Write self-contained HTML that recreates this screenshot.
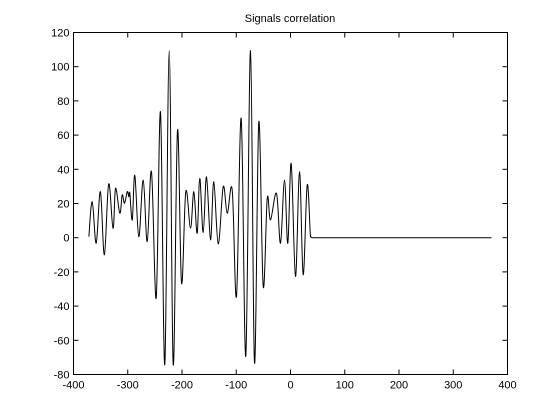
<!DOCTYPE html>
<html><head><meta charset="utf-8"><style>
html,body{margin:0;padding:0;background:#fff;}
svg{display:block;font-family:"Liberation Sans",sans-serif;}
</style></head><body>
<svg id="chart" width="560" height="420">
<rect x="0" y="0" width="560" height="420" fill="#fff"/>
<text x="290" y="22" text-anchor="middle" font-size="11">Signals correlation</text>
<rect x="73.5" y="32.5" width="434" height="342" fill="none" stroke="#000" stroke-width="1"/>
<g id="ticks"></g>
<path id="signal" fill="none" stroke="#000" stroke-width="1"/>
</svg>
<script>
const xTicks = [-400,-300,-200,-100,0,100,200,300,400];
const yTicks = [-80,-60,-40,-20,0,20,40,60,80,100,120];
const lagValues = [-371.7,-365.5,-358.2,-350.5,-343.1,-335.2,-327.1,-322.5,-314.6,-310.2,-305.9,-301,-298,-296.2,-291.7,-287,-279.6,-271.5,-264.1,-256.2,-247.5,-239.6,-231.7,-223.6,-216.2,-208.3,-200.9,-193,-184.3,-178.2,-172,-167.2,-160.9,-154.8,-147.4,-141.4,-133.2,-124,-116.6,-107.4,-99.5,-90.8,-82.4,-73.7,-66.3,-58.4,-50.3,-42.9,-36.9,-25.8,-18.4,-11.1,-5,1.3,9.2,16.6,23.4,30.8,36.9,40,370.4];
const corrValues = [0.6,21,-3.2,26.9,-10,31.4,5.5,28.9,14.3,25,20.1,26.9,24,26,10.4,36.5,0.6,33.7,-2.3,38.5,-35.3,73.5,-74.2,109.5,-74.2,62.8,-26.5,26.9,5.5,26.9,2.6,34.7,3,35.6,-1.3,32.7,-3.6,29.8,14.3,27.9,-34.3,69.7,-69.3,109.5,-73.2,67.7,-28.5,23,10.4,25.9,-3.2,33.7,-3.2,43.4,-22.7,38.5,-21.7,30.8,0.6,0,0];
const X0=73.5,X1=507.5,Y0=374.5,Y1=32.5;
function xs(v){return X0+(v+400)/800*(X1-X0);}
function ys(v){return Y0-(v+80)/200*(Y0-Y1);}
const NS="http://www.w3.org/2000/svg";
const g=document.getElementById('ticks');
function mk(tag,attrs){const e=document.createElementNS(NS,tag);for(const k in attrs)e.setAttribute(k,attrs[k]);g.appendChild(e);return e;}
xTicks.forEach(t=>{
  const x=xs(t);
  const a=mk('line',{x1:x,x2:x,y1:Y0,y2:Y0-5,stroke:'#000'});
  
  
  const b=mk('line',{x1:x,x2:x,y1:Y1,y2:Y1+5,stroke:'#000'});
  
  
  const l=mk('text',{x:x,y:Y0+14,'text-anchor':'middle','font-size':'11'});
  l.textContent=t;
  
  
});
yTicks.forEach(t=>{
  const y=ys(t);
  const a=mk('line',{x1:X0,x2:X0+5,y1:y,y2:y,stroke:'#000'});
  
  
  const b=mk('line',{x1:X1,x2:X1-5,y1:y,y2:y,stroke:'#000'});
  
  
  const l=mk('text',{x:X0-4,y:y+4,'text-anchor':'end','font-size':'11'});
  l.textContent=t;
  
  
});
const P=lagValues.map((v,i)=>[xs(v),ys(corrValues[i])]);
let d='M'+P[0][0].toFixed(1)+','+P[0][1].toFixed(1);
const k=0.35;
for(let i=0;i<P.length-1;i++){
  const p0=P[Math.max(0,i-1)],p1=P[i],p2=P[i+1],p3=P[Math.min(P.length-1,i+2)];
  if(p3[0]-p1[0]>20 || p2[0]-p0[0]>20){d+='L'+p2[0].toFixed(1)+','+p2[1].toFixed(1);continue;}
  const c1x=p1[0]+(p2[0]-p0[0])*k/2, c1y=p1[1]+(p2[1]-p0[1])*k/2;
  const c2x=p2[0]-(p3[0]-p1[0])*k/2, c2y=p2[1]-(p3[1]-p1[1])*k/2;
  d+='C'+c1x.toFixed(1)+','+c1y.toFixed(1)+' '+c2x.toFixed(1)+','+c2y.toFixed(1)+' '+p2[0].toFixed(1)+','+p2[1].toFixed(1);
}
document.getElementById('signal').setAttribute('d',d);
</script>
</body></html>
